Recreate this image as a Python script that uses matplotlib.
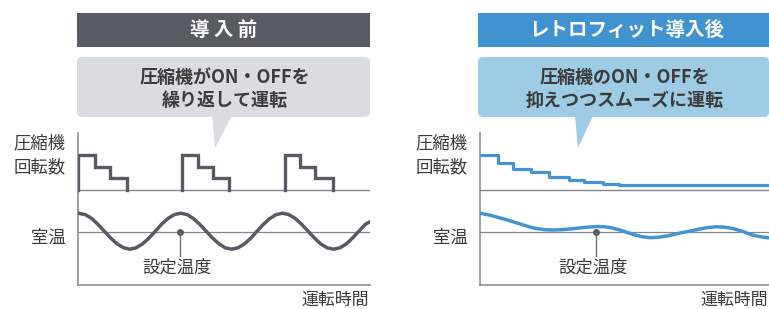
import numpy as np
import matplotlib
matplotlib.use("Agg")
import matplotlib.pyplot as plt
from matplotlib.patches import FancyBboxPatch, Polygon

plt.rcParams['font.family'] = ['Noto Sans CJK JP', 'DejaVu Sans']

# --- data -----------------------------------------------------------------
# time axis: 0..100 (運転時間, arbitrary units)
# before: compressor cycles ON/OFF in three steps
before_step_times = [[0, 5.8, 11.0, 16.8], [35.5, 41.1, 46.2, 51.7], [70.9, 76.0, 81.2, 87.3]]
before_step_speed = [100, 67, 33]          # % of max speed

# after: speed is reduced step by step and kept running
after_step_times = [0, 6.2, 11.4, 17.6, 23.9, 30.8, 36.0, 42.6, 48.1, 100]
after_step_speed = [100, 76, 60, 51, 36, 29, 22, 16, 14, 14]

# room temperature deviation from set point
before_temp_t = [0.0, 2.5, 4.7, 6.8, 9.0, 11.2, 13.4, 15.6, 17.7, 19.9, 22.1, 24.3,
                 26.5, 28.6, 30.8, 33.0, 35.2, 37.4, 39.5, 41.7, 43.9, 46.1, 48.3,
                 50.4, 52.6, 54.8, 57.0, 59.2, 61.3, 63.5, 65.7, 67.9, 70.1, 72.2,
                 74.4, 76.6, 78.8, 81.0, 83.1, 85.3, 87.5, 89.7, 91.9, 94.0, 96.2,
                 98.4, 100.0]
before_temp = [1.85, 1.71, 1.32, 0.74, 0.05, -0.64, -1.22, -1.61, -1.75, -1.61, -1.22,
               -0.64, 0.05, 0.74, 1.32, 1.71, 1.85, 1.71, 1.32, 0.74, 0.05, -0.64,
               -1.22, -1.61, -1.75, -1.61, -1.22, -0.64, 0.05, 0.74, 1.32, 1.71, 1.85,
               1.71, 1.32, 0.74, 0.05, -0.64, -1.22, -1.61, -1.75, -1.61, -1.22, -0.64,
               0.05, 0.74, 1.0]

after_temp_t = [0, 3.5, 6.2, 9.7, 13.1, 16.3, 19.0, 22.5, 25.3, 28.0, 31.1, 33.9, 37.4,
                40.8, 43.3, 45.3, 47.8, 50.2, 52.9, 55.7, 58.8, 61.6, 64.7, 68.2, 71.6,
                76.1, 78.9, 82.0, 84.8, 87.5, 90.7, 93.4, 96.5, 100]
after_temp = [1.85, 1.65, 1.44, 1.15, 0.84, 0.55, 0.34, 0.2, 0.17, 0.2, 0.27, 0.36, 0.46,
              0.52, 0.48, 0.4, 0.22, 0.0, -0.26, -0.48, -0.6, -0.56, -0.43, -0.2, 0.0,
              0.27, 0.42, 0.5, 0.45, 0.32, 0.05, -0.26, -0.48, -0.62]

setpoint_mark_t = [34.9, 40.0]

titles = ['導 入 前', 'レトロフィット導入後']
bubbles = ['圧縮機がON・OFFを\n繰り返して運転', '圧縮機のON・OFFを\n抑えつつスムーズに運転']

# --- style ----------------------------------------------------------------
W, H = 769, 309
txt = '#3b3b3b'
axis_gray = '#83878b'
line_col = ['#565c62', '#4394d1']
head_col = ['#565c61', '#4193d0']
bub_col = ['#d9dce0', '#9ecce4']

fig = plt.figure(figsize=(W / 100, H / 100), dpi=100)
bg = fig.add_axes([0, 0, 1, 1], zorder=0)
bg.set_xlim(0, W)
bg.set_ylim(H, 0)
bg.axis('off')

panel_x = [(77, 370), (478, 769)]
axes_x = [(78, 370), (480, 769)]
tails = [[(212, 116), (232, 116), (215, 148)], [(575, 116), (593, 116), (578, 148)]]

COMP0, COMPK = 95, 0.35      # compressor baseline and scale in axes units
TEMP0, TEMPK = 53.3, 10      # set point line and scale

for i in range(2):
    x0, x1 = panel_x[i]
    cx = (x0 + x1) / 2
    # header bar
    bg.add_patch(plt.Rectangle((x0, 13), x1 - x0, 34, color=head_col[i], lw=0))
    bg.text(cx + (0 if i == 0 else 3), 30, titles[i], color='white', fontsize=14,
            fontweight='bold', ha='center', va='center')
    # speech bubble
    bg.add_patch(FancyBboxPatch((x0, 57), x1 - x0, 60,
                                boxstyle='round,pad=0,rounding_size=5',
                                fc=bub_col[i], ec='none'))
    bg.add_patch(Polygon(tails[i], closed=True, fc=bub_col[i], ec='none'))
    bg.text(cx + 1, 89, bubbles[i], color=txt, fontsize=13, fontweight='bold',
            ha='center', va='center', linespacing=1.25)

    # labels
    lx = axes_x[i][0] - 12
    bg.text(lx, 143, '圧縮機', color=txt, fontsize=12.5, ha='right', va='center')
    bg.text(lx, 167, '回転数', color=txt, fontsize=12.5, ha='right', va='center')
    bg.text(lx, 238, '室温', color=txt, fontsize=12.5, ha='right', va='center')
    bg.text(axes_x[i][1] - 1, 299.5, '運転時間', color=txt, fontsize=12.2,
            ha='right', va='center')

    # plot area
    ax0, ax1 = axes_x[i]
    ax = fig.add_axes([ax0 / W, (H - 285) / H, (ax1 - ax0) / W, 152 / H], zorder=1)
    ax.set_facecolor('none')
    ax.set_xlim(0, 100)
    ax.set_ylim(0, 152)
    ax.set_xticks([])
    ax.set_yticks([])
    for s in ['top', 'right']:
        ax.spines[s].set_visible(False)
    for s in ['left', 'bottom']:
        ax.spines[s].set_color(axis_gray)
        ax.spines[s].set_linewidth(1.1)

    ax.axhline(COMP0, color=axis_gray, lw=1.0, zorder=1)
    ax.axhline(TEMP0, color=axis_gray, lw=0.9, zorder=1)

    if i == 0:
        for ts in before_step_times:
            xs, ys = [ts[0]], [0]
            for k, sp in enumerate(before_step_speed):
                xs += [ts[k], ts[k + 1]]
                ys += [sp, sp]
            xs.append(ts[-1])
            ys.append(0)
            ax.plot(xs, COMP0 + np.array(ys) * COMPK, color=line_col[i], lw=2.4,
                    solid_joinstyle='miter', zorder=3)
        ax.plot(before_temp_t, TEMP0 + np.array(before_temp) * TEMPK,
                color=line_col[i], lw=2.5, zorder=3)
    else:
        ax.step(after_step_times, COMP0 + np.array(after_step_speed) * COMPK,
                where='post', color=line_col[i], lw=2.3, zorder=3)
        ax.plot(after_temp_t, TEMP0 + np.array(after_temp) * TEMPK,
                color=line_col[i], lw=2.5, zorder=3)

    mt = setpoint_mark_t[i]
    ax.plot([mt, mt], [TEMP0, 29], color='#6a6e72', lw=1.0, zorder=4)
    ax.plot([mt], [TEMP0], 'o', color='#5a5e62', ms=4, zorder=5)
    ax.text(mt - 1, 17, '設定温度', color=txt, fontsize=12.5, ha='center', va='center')

fig.savefig('out.png', dpi=100)
